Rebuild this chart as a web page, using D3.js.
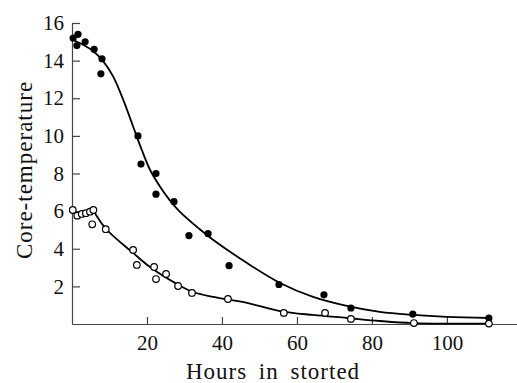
<!DOCTYPE html>
<html>
<head>
<meta charset="utf-8">
<script src="https://cdn.jsdelivr.net/npm/d3@7"></script>
<style>
  body { margin: 0; background: #fff; }
  svg { display: block; }
</style>
</head>
<body>
<svg width="517" height="383"></svg>
<script>
// measured points, [hours, core temperature]
var filledPoints = [
  [0.3, 15.2], [1.6, 15.4], [1.3, 14.8], [3.5, 15.0], [5.9, 14.6], [8.0, 14.1],
  [7.7, 13.3], [17.6, 10.0], [18.4, 8.5], [22.4, 8.0], [22.4, 6.9], [27.2, 6.5],
  [31.2, 4.7], [36.3, 4.8], [41.9, 3.1], [55.2, 2.1], [67.2, 1.55], [74.4, 0.85],
  [90.9, 0.53], [111.2, 0.32]
];

var openPoints = [
  [0.2, 6.06], [1.4, 5.76], [2.6, 5.85], [3.7, 5.89], [4.8, 5.97], [5.7, 6.06],
  [5.4, 5.30], [9.0, 5.04], [16.3, 3.94], [17.3, 3.14], [21.9, 3.03], [22.4, 2.39],
  [25.1, 2.66], [28.3, 2.02], [32.0, 1.65], [41.6, 1.33], [56.5, 0.59], [67.5, 0.59],
  [74.4, 0.27], [91.2, 0.05], [111.2, 0.02]
];

// fitted curves as drawn in the figure
var filledCurve = [
  [0.8, 15.05], [2.1, 14.93], [5.7, 14.5], [8.4, 13.95], [11, 13.15], [13.7, 11.9],
  [16.3, 10.5], [18.6, 9.26], [20.8, 8.2], [23.5, 7.3], [26, 6.6], [28.8, 5.96],
  [34, 5.05], [37.7, 4.47], [46.7, 3.24], [55.5, 2.18], [64.3, 1.44], [73.3, 0.96],
  [82.1, 0.64], [91, 0.48], [100, 0.38], [111.2, 0.32]
];

var openCurve = [
  [5.6, 6.06], [9.1, 5.05], [16.3, 3.78], [20.8, 3.03], [28.4, 2.08], [32.3, 1.70],
  [37.7, 1.44], [46.7, 1.12], [55.5, 0.69], [64.3, 0.48], [73.3, 0.32], [82.1, 0.16],
  [91, 0.05], [111.2, 0.02]
];

var xTicks = [20, 40, 60, 80, 100];
var yTicks = [2, 4, 6, 8, 10, 12, 14, 16];

var serif = "'Liberation Serif', 'Times New Roman', 'DejaVu Serif', serif";

var svg = d3.select("svg"),
    margin = {top: 23, right: 0, bottom: 59, left: 72},
    width = +svg.attr("width") - margin.left - margin.right,
    height = +svg.attr("height") - margin.top - margin.bottom,
    g = svg.append("g").attr("transform", "translate(" + margin.left + "," + margin.top + ")");

var x = d3.scaleLinear().domain([0, 118.7]).range([0, width]),
    y = d3.scaleLinear().domain([0, 16]).range([height, 0]);

var line = d3.line()
    .curve(d3.curveCatmullRom.alpha(0.5))
    .x(function (d) { return x(d[0]); })
    .y(function (d) { return y(d[1]); });

// axes, ticks pointing inward
g.append("g")
    .attr("transform", "translate(0," + height + ")")
    .call(d3.axisBottom(x).tickValues(xTicks).tickSizeInner(-7).tickSizeOuter(0).tickPadding(11));

g.append("g")
    .call(d3.axisLeft(y).tickValues(yTicks).tickSizeInner(-8).tickSizeOuter(0).tickPadding(8));

g.selectAll(".domain, .tick line")
    .attr("stroke", "#444")
    .attr("stroke-width", 1.2);

g.selectAll(".tick text")
    .attr("fill", "#111")
    .style("font-family", serif)
    .style("font-size", "21px");

// fitted curves
g.selectAll(".fit")
    .data([filledCurve, openCurve])
    .enter().append("path")
    .attr("class", "fit")
    .attr("d", line)
    .attr("fill", "none")
    .attr("stroke", "#000")
    .attr("stroke-width", 1.8);

// points
g.selectAll(".filled")
    .data(filledPoints)
    .enter().append("circle")
    .attr("class", "filled")
    .attr("cx", function (d) { return x(d[0]); })
    .attr("cy", function (d) { return y(d[1]); })
    .attr("r", 3.6)
    .attr("fill", "#000");

g.selectAll(".open")
    .data(openPoints)
    .enter().append("circle")
    .attr("class", "open")
    .attr("cx", function (d) { return x(d[0]); })
    .attr("cy", function (d) { return y(d[1]); })
    .attr("r", 3.3)
    .attr("fill", "#fff")
    .attr("stroke", "#000")
    .attr("stroke-width", 1.2);

// axis labels
svg.append("text")
    .attr("x", 273)
    .attr("y", 379)
    .attr("text-anchor", "middle")
    .attr("fill", "#111")
    .style("font-family", serif)
    .style("font-size", "23px")
    .style("letter-spacing", "1px")
    .style("word-spacing", "5px")
    .text("Hours in storted");

svg.append("text")
    .attr("transform", "translate(32,170)rotate(-90)")
    .attr("text-anchor", "middle")
    .attr("fill", "#111")
    .style("font-family", serif)
    .style("font-size", "23px")
    .style("letter-spacing", "1px")
    .text("Core-temperature");
</script>
</body>
</html>
